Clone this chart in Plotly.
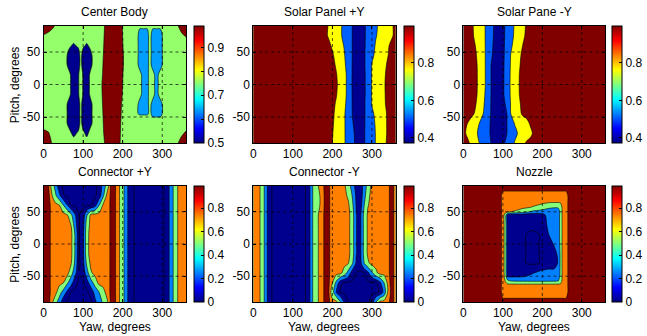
import plotly.graph_objects as go
from plotly.colors import sample_colorscale

# MATLAB-style jet colour map
JET = [[0.0, "rgb(0,0,128)"], [0.125, "rgb(0,0,255)"], [0.375, "rgb(0,255,255)"],
       [0.625, "rgb(255,255,0)"], [0.875, "rgb(255,0,0)"], [1.0, "rgb(128,0,0)"]]

TITLES = ["Center Body", "Solar Panel +Y", "Solar Pane -Y", "Connector +Y", "Connector -Y", "Nozzle"]
X_TICKS = [0, 100, 200, 300]
Y_TICKS = [-50, 0, 50]
Y_TICKTEXT = ["-50", "0", "50"]
PITCH = [-90, -75, -60, -45, -30, -15, 0, 15, 30, 45, 60, 75, 90]

# ---------------- Center Body ----------------
CB_YAW = [0, 12, 25, 40, 52, 64, 76, 88, 94, 100, 109, 118, 130, 145, 155, 165, 180, 195, 205,
          220, 235, 243, 252, 262, 268, 276, 285, 295, 305, 320, 335, 348, 360]
CB_Z = [
    [.99, .97, .86, .78, .78, .78, .78, .78, .78, .78, .78, .78, .78, .78, .91, .99, .99, .89, .78, .78, .78, .78, .78, .78, .78, .78, .78, .78, .78, .78, .85, .97, .99],
    [.95, .92, .80, .78, .78, .74, .58, .70, .78, .72, .58, .74, .78, .78, .95, .99, .99, .895, .78, .78, .78, .78, .78, .78, .78, .78, .78, .78, .78, .78, .79, .86, .93],
    [.82, .78, .78, .78, .78, .58, .52, .52, .744, .52, .52, .58, .78, .78, .98, .99, .99, .90, .78, .78, .78, .69, .69, .69, .78, .665, .665, .665, .78, .78, .78, .78, .80],
    [.78, .78, .78, .78, .78, .58, .52, .52, .744, .52, .52, .58, .78, .81, .99, .99, .99, .915, .78, .78, .66, .65, .65, .65, .66, .65, .65, .65, .66, .78, .78, .78, .78],
    [.78, .78, .78, .78, .78, .58, .52, .52, .744, .52, .52, .58, .78, .84, .99, .99, .99, .93, .78, .78, .66, .65, .65, .65, .66, .65, .65, .65, .66, .78, .78, .78, .78],
    [.78, .78, .78, .78, .78, .72, .52, .635, .744, .635, .52, .69, .78, .86, .99, .99, .99, .98, .78, .78, .78, .66, .65, .65, .66, .66, .65, .66, .78, .78, .78, .78, .78],
    [.78, .78, .78, .78, .78, .72, .52, .635, .744, .635, .52, .69, .78, .87, .99, .99, .99, .99, .80, .78, .78, .66, .65, .65, .66, .66, .65, .66, .78, .78, .78, .78, .78],
    [.78, .78, .78, .78, .78, .72, .52, .635, .744, .635, .52, .69, .78, .84, .99, .99, .99, .99, .83, .78, .78, .66, .65, .65, .66, .66, .65, .66, .78, .78, .78, .78, .78],
    [.78, .78, .78, .78, .78, .58, .52, .52, .744, .52, .52, .58, .78, .81, .99, .99, .99, .99, .86, .78, .66, .65, .65, .65, .66, .65, .65, .65, .66, .78, .78, .78, .78],
    [.78, .78, .78, .78, .78, .58, .52, .52, .744, .52, .52, .58, .78, .78, .98, .99, .99, .99, .86, .78, .66, .65, .65, .65, .66, .65, .65, .65, .66, .78, .78, .78, .78],
    [.78, .78, .78, .78, .78, .70, .62, .70, .78, .70, .62, .70, .78, .78, .95, .99, .99, .99, .83, .78, .66, .65, .65, .65, .66, .65, .65, .65, .66, .78, .78, .78, .78],
    [.89, .85, .80, .78, .78, .78, .78, .78, .78, .78, .78, .78, .78, .78, .93, .99, .99, .99, .80, .78, .66, .65, .65, .65, .66, .65, .65, .65, .66, .78, .79, .86, .92],
    [.99, .99, .92, .78, .78, .78, .78, .78, .78, .78, .78, .78, .78, .78, .91, .99, .99, .98, .78, .78, .78, .657, .657, .657, .78, .657, .657, .657, .78, .78, .85, .97, .99],
]
CB_LEVELS = [0.645, 0.655, 0.9]
CB_BANDS = [0.507, 0.637, 0.755, 0.99]
CB_RANGE = [0.5, 0.99]
CB_CTICKS = [0.5, 0.6, 0.7, 0.8, 0.9]

# ---------------- Solar Panel +Y ----------------
SPP_YAW = [0, 90, 170, 180, 190, 200, 210, 220, 230, 240, 250, 260, 270, 280, 290, 300, 310, 320, 330, 340, 350, 360]
SPP_Z = [
    [.99, .99, .99, .99, .99, .95, .889, .829, .768, .667, .548, .467, .428, .483, .57, .67, .764, .836, .907, .982, .99, .99],
    [.99, .99, .99, .99, .99, .958, .894, .831, .769, .663, .538, .463, .431, .484, .57, .67, .764, .831, .899, .97, .99, .99],
    [.99, .99, .99, .99, .99, .97, .901, .835, .77, .653, .514, .456, .432, .481, .568, .682, .775, .839, .902, .97, .99, .99],
    [.99, .99, .99, .99, .99, .982, .909, .84, .771, .647, .50, .454, .431, .477, .571, .714, .793, .85, .907, .97, .99, .99],
    [.99, .99, .99, .99, .99, .99, .932, .862, .792, .673, .496, .452, .431, .474, .583, .761, .815, .869, .923, .99, .99, .99],
    [.99, .99, .99, .99, .99, .99, .958, .882, .807, .69, .492, .451, .429, .47, .574, .771, .822, .873, .93, .99, .99, .99],
    [.99, .99, .99, .99, .99, .99, .97, .89, .81, .688, .49, .45, .43, .47, .574, .772, .826, .88, .934, .99, .99, .99],
    [.99, .99, .99, .99, .99, .99, .958, .882, .807, .69, .492, .451, .429, .47, .574, .771, .822, .873, .924, .99, .99, .99],
    [.99, .99, .99, .99, .99, .99, .932, .859, .786, .661, .496, .452, .431, .474, .583, .760, .811, .861, .912, .97, .99, .99],
    [.99, .99, .99, .99, .99, .97, .899, .831, .764, .639, .50, .454, .431, .477, .571, .714, .789, .841, .893, .945, .99, .99],
    [.99, .99, .99, .99, .99, .926, .865, .805, .738, .619, .50, .454, .431, .477, .56, .679, .771, .824, .876, .929, .99, .99],
    [.99, .99, .99, .99, .937, .883, .83, .777, .70, .60, .50, .454, .431, .477, .548, .644, .740, .792, .838, .885, .931, .99],
    [.99, .99, .99, .99, .944, .889, .833, .778, .70, .60, .50, .454, .431, .477, .545, .636, .727, .786, .834, .883, .931, .99],
]

# ---------------- Solar Pane -Y ----------------
SPM_YAW = [0, 10, 20, 30, 40, 50, 60, 70, 80, 90, 100, 110, 120, 130, 140, 150, 160, 170, 180, 190, 270, 360]
SPM_Z = [
    [.99, .99, .91, .83, .75, .665, .58, .498, .455, .428, .471, .536, .655, .764, .831, .899, .97, .99, .99, .99, .99, .99],
    [.99, .918, .853, .789, .716, .629, .543, .483, .448, .427, .462, .497, .594, .698, .774, .823, .872, .921, .982, .99, .99, .99],
    [.99, .95, .883, .817, .75, .65, .55, .483, .448, .427, .462, .497, .632, .76, .81, .86, .91, .966, .99, .99, .99, .99],
    [.99, .99, .99, .932, .841, .75, .603, .489, .452, .426, .463, .50, .75, .824, .898, .974, .99, .99, .99, .99, .99, .99],
    [.99, .99, .99, .966, .877, .786, .643, .492, .453, .426, .465, .528, .765, .842, .919, .99, .99, .99, .99, .99, .99, .99],
    [.99, .99, .99, .99, .902, .807, .673, .496, .454, .428, .471, .583, .782, .862, .942, .99, .99, .99, .99, .99, .99, .99],
    [.99, .99, .99, .99, .912, .817, .69, .498, .455, .428, .471, .588, .786, .865, .944, .99, .99, .99, .99, .99, .99, .99],
    [.99, .99, .99, .99, .912, .817, .69, .498, .455, .428, .471, .583, .782, .862, .942, .99, .99, .99, .99, .99, .99, .99],
    [.99, .99, .99, .99, .905, .814, .692, .50, .457, .426, .47, .575, .773, .85, .927, .99, .99, .99, .99, .99, .99, .99],
    [.99, .99, .99, .974, .892, .808, .696, .518, .46, .424, .469, .5625, .757, .831, .906, .982, .99, .99, .99, .99, .99, .99],
    [.99, .99, .99, .95, .876, .802, .70, .533, .463, .422, .468, .55, .717, .807, .879, .95, .99, .99, .99, .99, .99, .99],
    [.99, .99, .99, .919, .856, .794, .703, .547, .467, .42, .467, .542, .681, .782, .847, .911, .982, .99, .99, .99, .99, .99],
    [.99, .99, .982, .914, .853, .792, .706, .559, .471, .422, .466, .538, .667, .773, .837, .902, .97, .99, .99, .99, .99, .99],
]
SP_LEVELS = [0.5, 0.75, 0.95]
SP_BANDS = [0.383, 0.51, 0.763, 0.997]
SP_RANGE = [0.373, 0.997]
SP_CTICKS = [0.4, 0.6, 0.8]

# ---------------- Connector +Y ----------------
CN_YAW = [0, 10, 20, 30, 40, 50, 60, 70, 80, 90, 100, 110, 120, 130, 140, 150, 160, 170, 180,
          190, 200, 210, 220, 230, 240, 250, 260, 270, 280, 290, 300, 310, 320, 330, 340, 350, 360]
CNP_Z = [
    [.99, .99, .825, .596, .375, .10, .03, .03, .03, .03, .03, .03, .03, .19, .375, .533, .70, .926, .926, .791, .591, .3125, .09, .044, .02, .02, .02, .02, .02, .02, .02, .087, .306, .5625, .77, .82, .82],
    [.99, .99, .86, .82, .604, .404, .19, .03, .03, .03, .03, .03, .10, .333, .49, .667, .82, .926, .926, .791, .591, .3125, .09, .044, .02, .02, .02, .02, .02, .02, .02, .087, .306, .5625, .77, .82, .82],
    [.99, .99, .86, .82, .82, .76, .542, .333, .086, .03, .03, .16, .396, .604, .82, .82, .82, .926, .926, .791, .591, .3125, .09, .044, .02, .02, .02, .02, .02, .02, .02, .087, .306, .5625, .77, .82, .82],
    [.99, .99, .86, .82, .82, .82, .82, .60, .3125, .06, .091, .406, .719, .82, .82, .82, .82, .926, .926, .791, .591, .3125, .09, .044, .02, .02, .02, .02, .02, .02, .02, .087, .306, .5625, .77, .82, .82],
    [.99, .99, .86, .82, .82, .82, .82, .752, .44, .01, .17, .58, .82, .82, .82, .82, .82, .926, .926, .791, .591, .3125, .09, .044, .02, .02, .02, .02, .02, .02, .02, .087, .306, .5625, .77, .82, .82],
    [.99, .99, .86, .82, .82, .82, .82, .80, .467, .033, .20, .70, .82, .82, .82, .82, .82, .926, .926, .791, .591, .3125, .09, .044, .02, .02, .02, .02, .02, .02, .02, .087, .306, .5625, .77, .82, .82],
    [.99, .99, .86, .82, .82, .82, .82, .80, .467, .033, .20, .70, .82, .82, .82, .82, .82, .926, .926, .791, .591, .3125, .09, .044, .02, .02, .02, .02, .02, .02, .02, .087, .306, .5625, .77, .82, .82],
    [.99, .99, .86, .82, .82, .82, .82, .80, .467, .033, .20, .70, .82, .82, .82, .82, .82, .926, .926, .791, .591, .3125, .09, .044, .02, .02, .02, .02, .02, .02, .02, .087, .306, .5625, .77, .82, .82],
    [.99, .99, .86, .82, .82, .82, .82, .74, .34, .04, .15, .65, .82, .82, .82, .82, .82, .926, .926, .791, .591, .3125, .09, .044, .02, .02, .02, .02, .02, .02, .02, .087, .306, .5625, .77, .82, .82],
    [.99, .99, .86, .82, .82, .82, .76, .542, .26, .047, .10, .49, .82, .82, .82, .82, .82, .926, .926, .791, .591, .3125, .09, .044, .02, .02, .02, .02, .02, .02, .02, .087, .306, .5625, .77, .82, .82],
    [.99, .99, .86, .82, .76, .51, .26, .03, .03, .03, .03, .03, .03, .16, .49, .773, .82, .926, .926, .791, .591, .3125, .09, .044, .02, .02, .02, .02, .02, .02, .02, .087, .306, .5625, .77, .82, .82],
    [.99, .99, .797, .55, .30, .058, .03, .03, .03, .03, .03, .03, .03, .03, .10, .429, .797, .926, .926, .791, .591, .3125, .09, .044, .02, .02, .02, .02, .02, .02, .02, .087, .306, .5625, .77, .82, .82],
    [.99, .99, .694, .406, .10, .03, .03, .03, .03, .03, .03, .03, .03, .03, .072, .325, .607, .926, .926, .791, .591, .3125, .09, .044, .02, .02, .02, .02, .02, .02, .02, .087, .306, .5625, .77, .82, .82],
]

# ---------------- Connector -Y ----------------
CNM_Z = [
    [.82, .82, .722, .429, .10, .03, .03, .03, .03, .03, .03, .03, .03, .03, .13, .495, .679, .84, .913, .939, .82, .82, .531, .22, .03, .03, .03, .03, .03, .03, .13, .49, .82, .82, .85, .975, .82],
    [.82, .82, .722, .429, .10, .03, .03, .03, .03, .03, .03, .03, .03, .03, .13, .495, .679, .84, .913, .939, .625, .22, .03, .03, .03, .03, .03, .03, .03, .03, .03, .03, .058, .3125, .76, .975, .82],
    [.82, .82, .722, .429, .10, .03, .03, .03, .03, .03, .03, .03, .03, .03, .13, .495, .679, .84, .913, .939, .76, .429, .10, .03, .03, .03, .03, .03, .03, .03, .03, .03, .19, .49, .81, .975, .82],
    [.82, .82, .722, .429, .10, .03, .03, .03, .03, .03, .03, .03, .03, .03, .13, .495, .679, .84, .913, .939, .82, .82, .82, .636, .40, .13, .03, .03, .03, .19, .45, .70, .82, .82, .85, .975, .82],
    [.82, .82, .722, .429, .10, .03, .03, .03, .03, .03, .03, .03, .03, .03, .13, .495, .679, .84, .913, .939, .82, .82, .82, .82, .76, .542, .22, .138, .49, .708, .82, .82, .82, .82, .85, .975, .82],
    [.82, .82, .722, .429, .10, .03, .03, .03, .03, .03, .03, .03, .03, .03, .13, .495, .679, .84, .913, .939, .82, .82, .82, .82, .82, .636, .26, .174, .568, .797, .82, .82, .82, .82, .85, .975, .82],
    [.82, .82, .722, .429, .10, .03, .03, .03, .03, .03, .03, .03, .03, .03, .13, .495, .679, .84, .913, .939, .82, .82, .82, .82, .82, .636, .26, .174, .568, .797, .82, .82, .82, .82, .85, .975, .82],
    [.82, .82, .722, .429, .10, .03, .03, .03, .03, .03, .03, .03, .03, .03, .13, .495, .679, .84, .913, .939, .82, .82, .82, .82, .82, .636, .26, .174, .568, .797, .82, .82, .82, .82, .85, .975, .82],
    [.82, .82, .722, .429, .10, .03, .03, .03, .03, .03, .03, .03, .03, .03, .13, .495, .679, .84, .913, .939, .82, .82, .82, .82, .82, .636, .26, .174, .568, .797, .82, .82, .82, .82, .85, .975, .82],
    [.82, .82, .722, .429, .10, .03, .03, .03, .03, .03, .03, .03, .03, .03, .13, .495, .679, .84, .913, .939, .82, .82, .82, .82, .82, .636, .26, .174, .568, .797, .82, .82, .82, .82, .85, .975, .82],
    [.82, .82, .722, .429, .10, .03, .03, .03, .03, .03, .03, .03, .03, .03, .13, .495, .639, .773, .913, .939, .82, .82, .82, .82, .797, .568, .24, .10, .49, .74, .82, .82, .82, .82, .85, .975, .82],
    [.82, .82, .722, .429, .10, .03, .03, .03, .03, .03, .03, .03, .03, .03, .13, .495, .639, .773, .913, .939, .82, .82, .82, .82, .708, .495, .2125, .078, .393, .694, .82, .82, .82, .82, .85, .975, .82],
    [.82, .82, .722, .429, .10, .03, .03, .03, .03, .03, .03, .03, .03, .03, .13, .495, .679, .84, .913, .939, .82, .82, .82, .797, .607, .409, .1375, .075, .344, .614, .82, .82, .82, .82, .85, .975, .82],
]

# ---------------- Nozzle ----------------
NZ_YAW = [0, 80, 92, 100, 106, 112, 120, 150, 175, 200, 215, 230, 240, 246, 252, 260, 270, 285, 360]
NZ_PITCH = [-90, -75, -63, -57, -50, -42, -30, -15, 0, 15, 30, 45, 50, 57, 65, 75, 90]
NZ_Z = [
    [.99, .99, .99, .95, .95, .95, .95, .95, .95, .95, .95, .95, .95, .95, .95, .95, .99, .99, .99],
    [.99, .99, .99, .82, .82, .82, .82, .82, .82, .82, .82, .82, .82, .82, .82, .82, .99, .99, .99],
    [.99, .99, .99, .82, .80, .79, .79, .79, .79, .79, .79, .79, .79, .79, .82, .82, .99, .99, .99],
    [.99, .99, .99, .82, .74, .55, .48, .46, .45, .45, .45, .46, .48, .60, .85, .82, .99, .99, .99],
    [.99, .99, .99, .82, .70, .20, .20, .22, .30, .35, .36, .36, .38, .55, .85, .82, .99, .99, .99],
    [.99, .99, .99, .82, .68, .14, .12, .15, .20, .27, .30, .30, .32, .55, .85, .82, .99, .99, .99],
    [.99, .99, .99, .82, .68, .14, .10, .06, .03, .06, .10, .12, .27, .55, .85, .82, .99, .99, .99],
    [.99, .99, .99, .82, .68, .14, .10, .06, .03, .06, .10, .15, .30, .55, .85, .82, .99, .99, .99],
    [.99, .99, .99, .82, .68, .14, .10, .06, .03, .06, .10, .28, .40, .55, .85, .82, .99, .99, .99],
    [.99, .99, .99, .82, .68, .14, .10, .06, .03, .06, .24, .38, .42, .55, .85, .82, .99, .99, .99],
    [.99, .99, .99, .82, .68, .14, .10, .10, .08, .10, .30, .38, .42, .55, .85, .82, .99, .99, .99],
    [.99, .99, .99, .82, .68, .14, .10, .10, .10, .15, .35, .40, .42, .55, .85, .82, .99, .99, .99],
    [.99, .99, .99, .82, .80, .78, .76, .62, .45, .38, .36, .36, .38, .55, .85, .82, .99, .99, .99],
    [.99, .99, .99, .82, .82, .82, .82, .80, .74, .65, .55, .52, .52, .60, .85, .82, .99, .99, .99],
    [.99, .99, .99, .82, .82, .82, .82, .82, .82, .80, .78, .77, .77, .78, .82, .82, .99, .99, .99],
    [.99, .99, .99, .82, .82, .82, .82, .82, .82, .82, .82, .82, .82, .82, .82, .82, .99, .99, .99],
    [.99, .99, .99, .99, .99, .99, .99, .99, .99, .99, .99, .99, .99, .99, .99, .99, .99, .99, .99],
]
BOT_LEVELS = [0.25, 0.5, 0.75, 0.9]
BOT_LINES = [0.05]
BOT_BANDS = [0.015, 0.247, 0.5, 0.743, 0.99]
BOT_RANGE = [0.0, 0.99]
BOT_CTICKS = [0, 0.2, 0.4, 0.6, 0.8]

PANELS = [
    dict(x=CB_YAW, y=PITCH, z=CB_Z, levels=CB_LEVELS, bands=CB_BANDS, crange=CB_RANGE, cticks=CB_CTICKS, lines=[]),
    dict(x=SPP_YAW, y=PITCH, z=SPP_Z, levels=SP_LEVELS, bands=SP_BANDS, crange=SP_RANGE, cticks=SP_CTICKS, lines=[]),
    dict(x=SPM_YAW, y=PITCH, z=SPM_Z, levels=SP_LEVELS, bands=SP_BANDS, crange=SP_RANGE, cticks=SP_CTICKS, lines=[]),
    dict(x=CN_YAW, y=PITCH, z=CNP_Z, levels=BOT_LEVELS, bands=BOT_BANDS, crange=BOT_RANGE, cticks=BOT_CTICKS, lines=BOT_LINES),
    dict(x=CN_YAW, y=PITCH, z=CNM_Z, levels=BOT_LEVELS, bands=BOT_BANDS, crange=BOT_RANGE, cticks=BOT_CTICKS, lines=BOT_LINES),
    dict(x=NZ_YAW, y=NZ_PITCH, z=NZ_Z, levels=BOT_LEVELS, bands=BOT_BANDS, crange=BOT_RANGE, cticks=BOT_CTICKS, lines=BOT_LINES),
]

W, H = 647, 336
XD = [[41 / W, 185 / W], [253 / W, 397 / W], [465.5 / W, 609 / W]]
YD = [[1 - 143 / H, 1 - 26 / H], [1 - 302 / H, 1 - 186 / H]]
CBX = [193 / W, 405 / W, 616 / W]
FONT = "Liberation Sans, Arial, Helvetica, sans-serif"
TF = dict(family=FONT, size=12, color="black")
LINE = dict(color="black", width=0.6, smoothing=0.8)

fig = go.Figure()
annotations = []
for k, p in enumerate(PANELS):
    r, c = divmod(k, 3)
    n = "" if k == 0 else str(k + 1)
    xa, ya = "x" + n, "y" + n
    lo, hi = p["crange"]
    cols = sample_colorscale(JET, [(v - lo) / (hi - lo) for v in p["bands"]])
    fig.add_shape(type="rect", xref=xa + " domain", yref=ya + " domain", x0=0, x1=1, y0=0, y1=1,
                  fillcolor=cols[0], line_width=0, layer="below")
    # plotly shades the region that fails the constraint, so "<" shades z >= level
    for lev, col in zip(p["levels"], cols[1:]):
        fig.add_trace(go.Contour(x=p["x"], y=p["y"], z=p["z"], xaxis=xa, yaxis=ya,
                                 contours=dict(type="constraint", operation="<", value=lev),
                                 fillcolor=col, line=LINE, showscale=False, hoverinfo="skip"))
    for lev in p["lines"]:
        fig.add_trace(go.Contour(x=p["x"], y=p["y"], z=p["z"], xaxis=xa, yaxis=ya,
                                 contours=dict(coloring="none", start=lev, end=lev, size=1),
                                 line=LINE, showscale=False, hoverinfo="skip"))
    fig.add_trace(go.Scatter(x=[None], y=[None], xaxis=xa, yaxis=ya, mode="markers", showlegend=False,
                             hoverinfo="skip",
                             marker=dict(color=[lo], cmin=lo, cmax=hi, colorscale=JET, showscale=True,
                                         colorbar=dict(x=CBX[c], xanchor="left", xpad=0, y=YD[r][1], yanchor="top",
                                                       len=YD[r][1] - YD[r][0], lenmode="fraction", ypad=0,
                                                       thickness=10, outlinewidth=1, outlinecolor="black",
                                                       tickvals=p["cticks"], ticks="inside", ticklen=3,
                                                       tickcolor="black", tickfont=TF))))
    for t in X_TICKS[1:]:
        fig.add_shape(type="line", xref=xa, yref=ya + " domain", x0=t, x1=t, y0=0, y1=1,
                      line=dict(color="black", width=0.7, dash="dot"), layer="above")
    for t in Y_TICKS:
        fig.add_shape(type="line", xref=xa + " domain", yref=ya, x0=0, x1=1, y0=t, y1=t,
                      line=dict(color="black", width=0.7, dash="dot"), layer="above")
    fig.update_layout(**{
        "xaxis" + n: dict(domain=XD[c], anchor=ya, range=[0, 360], tickmode="array", tickvals=X_TICKS,
                          ticks="inside", ticklen=3, tickcolor="black", showline=True, linecolor="black",
                          linewidth=1, mirror="allticks", showgrid=False, zeroline=False, tickfont=TF,
                          layer="above traces", fixedrange=True),
        "yaxis" + n: dict(domain=YD[r], anchor=xa, range=[-90, 90], tickmode="array", tickvals=Y_TICKS,
                          ticktext=Y_TICKTEXT, ticks="inside", ticklen=3, tickcolor="black", showline=True,
                          linecolor="black", linewidth=1, mirror="allticks", showgrid=False, zeroline=False,
                          tickfont=TF, layer="above traces", fixedrange=True),
    })
    xc = (XD[c][0] + XD[c][1]) / 2
    annotations.append(dict(text=TITLES[k], x=xc, y=YD[r][1] + 14 / H, xref="paper", yref="paper",
                            xanchor="center", yanchor="middle", showarrow=False, font=TF))
    if c == 0:
        annotations.append(dict(text="Pitch, degrees", x=12 / W, y=(YD[r][0] + YD[r][1]) / 2, xref="paper",
                                yref="paper", xanchor="center", yanchor="middle", textangle=-90,
                                showarrow=False, font=TF))
    if r == 1:
        annotations.append(dict(text="Yaw, degrees", x=xc, y=1 - 327 / H, xref="paper", yref="paper",
                                xanchor="center", yanchor="middle", showarrow=False, font=TF))

fig.update_layout(width=W, height=H, margin=dict(l=0, r=0, t=0, b=0), paper_bgcolor="white",
                  plot_bgcolor="white", showlegend=False, hovermode=False, annotations=annotations,
                  font=TF)
fig.write_html("out.html")
